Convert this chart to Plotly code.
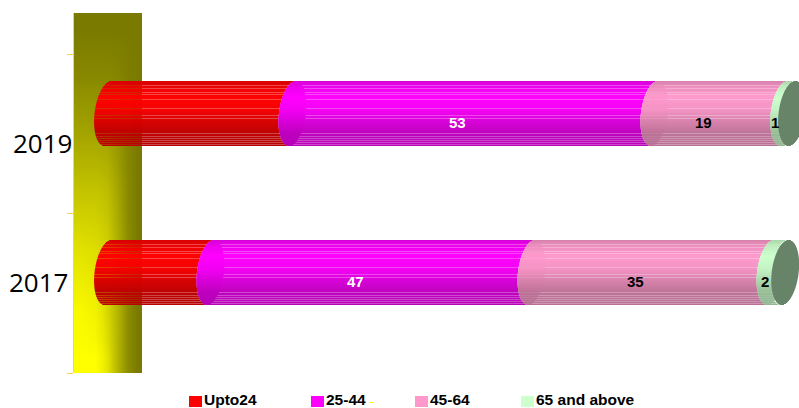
import numpy as np
import plotly.graph_objects as go

# Share of each age group by year
years = ["2017", "2019"]
age_groups = ["Upto24", "25-44", "45-64", "65 and above"]
upto24 = [15, 27]
age25_44 = [47, 53]
age45_64 = [35, 19]
age65_up = [2, 1]
series_values = [upto24, age25_44, age45_64, age65_up]

# Which segments print their value, and in what colour
label_colors = [None, "#ffffff", "#000000", "#000000"]
series_rgb = [(255, 0, 0), (255, 0, 255), (255, 153, 204), (204, 255, 204)]
end_cap_rgb = (104, 132, 104)
shade_stops = [0.0, 0.08, 0.25, 0.45, 0.8, 1.0]
shade_levels = [0.84, 0.92, 1.0, 0.95, 0.74, 0.72]
stripe_rows = [4, 7, 11, 13, 18, 27, 34, 37, 52, 55, 57, 59, 61, 63]

# Shading of the back wall, olive (0) to full yellow (1), top row first
wall_shade = [
    [0.00, 0.00, 0.00, 0.00, 0.00, 0.00],
    [0.10, 0.10, 0.10, 0.08, 0.03, 0.00],
    [0.30, 0.30, 0.28, 0.20, 0.08, 0.00],
    [0.55, 0.55, 0.50, 0.33, 0.12, 0.00],
    [0.78, 0.75, 0.65, 0.42, 0.15, 0.00],
    [0.95, 0.90, 0.70, 0.45, 0.15, 0.00],
    [1.00, 1.00, 0.80, 0.45, 0.15, 0.00],
]
wall_x_edges_px = [74, 88, 102, 112, 122, 132, 142]
wall_y_edges_px = [13, 50, 100, 160, 220, 280, 340, 373]

# Plot geometry
W, H = 799, 408
LEFT, TOP, BOTTOM = 74, 13, 373
PX_PER_UNIT = 6.83
ZERO_PX = 108
PX_PER_SLOT = 159.5
x_range = [(LEFT - ZERO_PX) / PX_PER_UNIT, (W - ZERO_PX) / PX_PER_UNIT]
y_range = [0, (BOTTOM - TOP) / PX_PER_SLOT]

ROWS = 65
CAP_HALF = 13.5 / PX_PER_UNIT
CAP_TILT = 3.5 / PX_PER_UNIT


def to_x(px):
    return (px - ZERO_PX) / PX_PER_UNIT


def to_y(px):
    return (BOTTOM - px) / PX_PER_SLOT


def paper_x(px):
    return (px - LEFT) / (W - LEFT)


def paper_y(px):
    return (BOTTOM - px) / (BOTTOM - TOP)


fracs = (np.arange(ROWS) + 0.5) / ROWS
t = 1 - 2 * fracs
s = np.sqrt(1 - t ** 2)
shade = np.interp(fracs, shade_stops, shade_levels)
row_h = 1 / PX_PER_SLOT
# Cylinder axes, placed so every row lands on a whole pixel
centers = [to_y(272.5), to_y(113.5)]


def row_colors(rgb, striped):
    # A just-under-1 alpha keeps thin rows on their own pixel row
    out = []
    for r, f in enumerate(shade):
        alpha = 0.72 if striped and r in stripe_rows else 0.99
        out.append(f"rgba({rgb[0] * f:.0f},{rgb[1] * f:.0f},{rgb[2] * f:.0f},{alpha})")
    return out


def band_trace(center, base, length, colors):
    return go.Bar(
        orientation="h",
        y=center + t * (ROWS / 2) * row_h,
        x=length,
        base=base,
        width=row_h,
        marker=dict(color=colors, line=dict(width=0)),
        hoverinfo="skip",
        showlegend=False,
    )


fig = go.Figure()

fig.add_trace(go.Heatmap(
    x=[to_x(v) for v in wall_x_edges_px],
    y=[to_y(v) for v in wall_y_edges_px],
    z=wall_shade,
    zmin=0, zmax=1,
    zsmooth="best",
    colorscale=[[0, "#7a7a00"], [1, "#ffff00"]],
    showscale=False,
    hoverinfo="skip",
))

annotations = []
for yi, center in enumerate(centers):
    cum = 0
    for si, values in enumerate(series_values):
        v = values[yi]
        left = cum + CAP_TILT * t - CAP_HALF * s
        # Cylinder wall of this segment, then the rim where it starts
        fig.add_trace(band_trace(center, left, np.full(ROWS, v),
                                 row_colors(series_rgb[si], True)))
        if si > 0:
            fig.add_trace(band_trace(center, left, 2 * CAP_HALF * s,
                                     row_colors(series_rgb[si], si >= 2)))
        if label_colors[si]:
            annotations.append(dict(
                x=cum + v / 2, y=center, xref="x", yref="y",
                xshift=-12.5 if v < 5 else -15.5, yshift=-8.5,
                text=f"<b>{v}</b>", showarrow=False,
                font=dict(family="Liberation Sans", size=15, color=label_colors[si]),
            ))
        cum += v
    # Closed far end of the cylinder
    fig.add_trace(band_trace(
        center,
        cum + CAP_TILT * t - CAP_HALF * s + 1 / PX_PER_UNIT,
        2 * CAP_HALF * s,
        f"rgb{end_cap_rgb}",
    ))

# Year labels sit beside the cylinders, not on the tick marks
for label, cx, cy in zip(years, (38.5, 42.5), (282, 143)):
    annotations.append(dict(
        x=paper_x(cx), y=paper_y(cy), xref="paper", yref="paper",
        xanchor="center", yanchor="middle",
        text=label, showarrow=False,
        font=dict(family="Open Sans", size=26, color="#000000"),
    ))

# Legend row
shapes = []
for name, rgb, px in zip(age_groups, series_rgb, (189, 311, 415, 521)):
    shapes.append(dict(
        type="rect", xref="paper", yref="paper",
        x0=paper_x(px), x1=paper_x(px + 13),
        y0=paper_y(407), y1=paper_y(396),
        fillcolor=f"rgb{rgb}", line=dict(width=0),
    ))
    annotations.append(dict(
        x=paper_x(px + 13), y=paper_y(399), xref="paper", yref="paper",
        xanchor="left", yanchor="middle", text=f"<b>{name}</b>", showarrow=False,
        font=dict(family="Liberation Sans", size=15.5, color="#000000"),
    ))
shapes.append(dict(
    type="line", xref="paper", yref="paper",
    x0=paper_x(369), x1=paper_x(373), y0=paper_y(402.5), y1=paper_y(402.5),
    line=dict(color="#ffff00", width=1),
))

fig.update_layout(
    width=W, height=H,
    autosize=False,
    margin=dict(l=LEFT, r=0, t=TOP, b=H - BOTTOM, pad=0),
    paper_bgcolor="#ffffff",
    plot_bgcolor="#ffffff",
    barmode="overlay",
    showlegend=False,
    annotations=annotations,
    shapes=shapes,
    xaxis=dict(range=x_range, visible=False, fixedrange=True),
    yaxis=dict(
        range=y_range, tickvals=[0, 1, 2], ticktext=["", "", ""],
        ticks="outside", ticklen=6, tickwidth=1, tickcolor="#ffd24d",
        showline=True, linecolor="#ffd24d", linewidth=1,
        showgrid=False, zeroline=False, fixedrange=True,
    ),
)

fig.write_html("out.html", config={"displayModeBar": False})
